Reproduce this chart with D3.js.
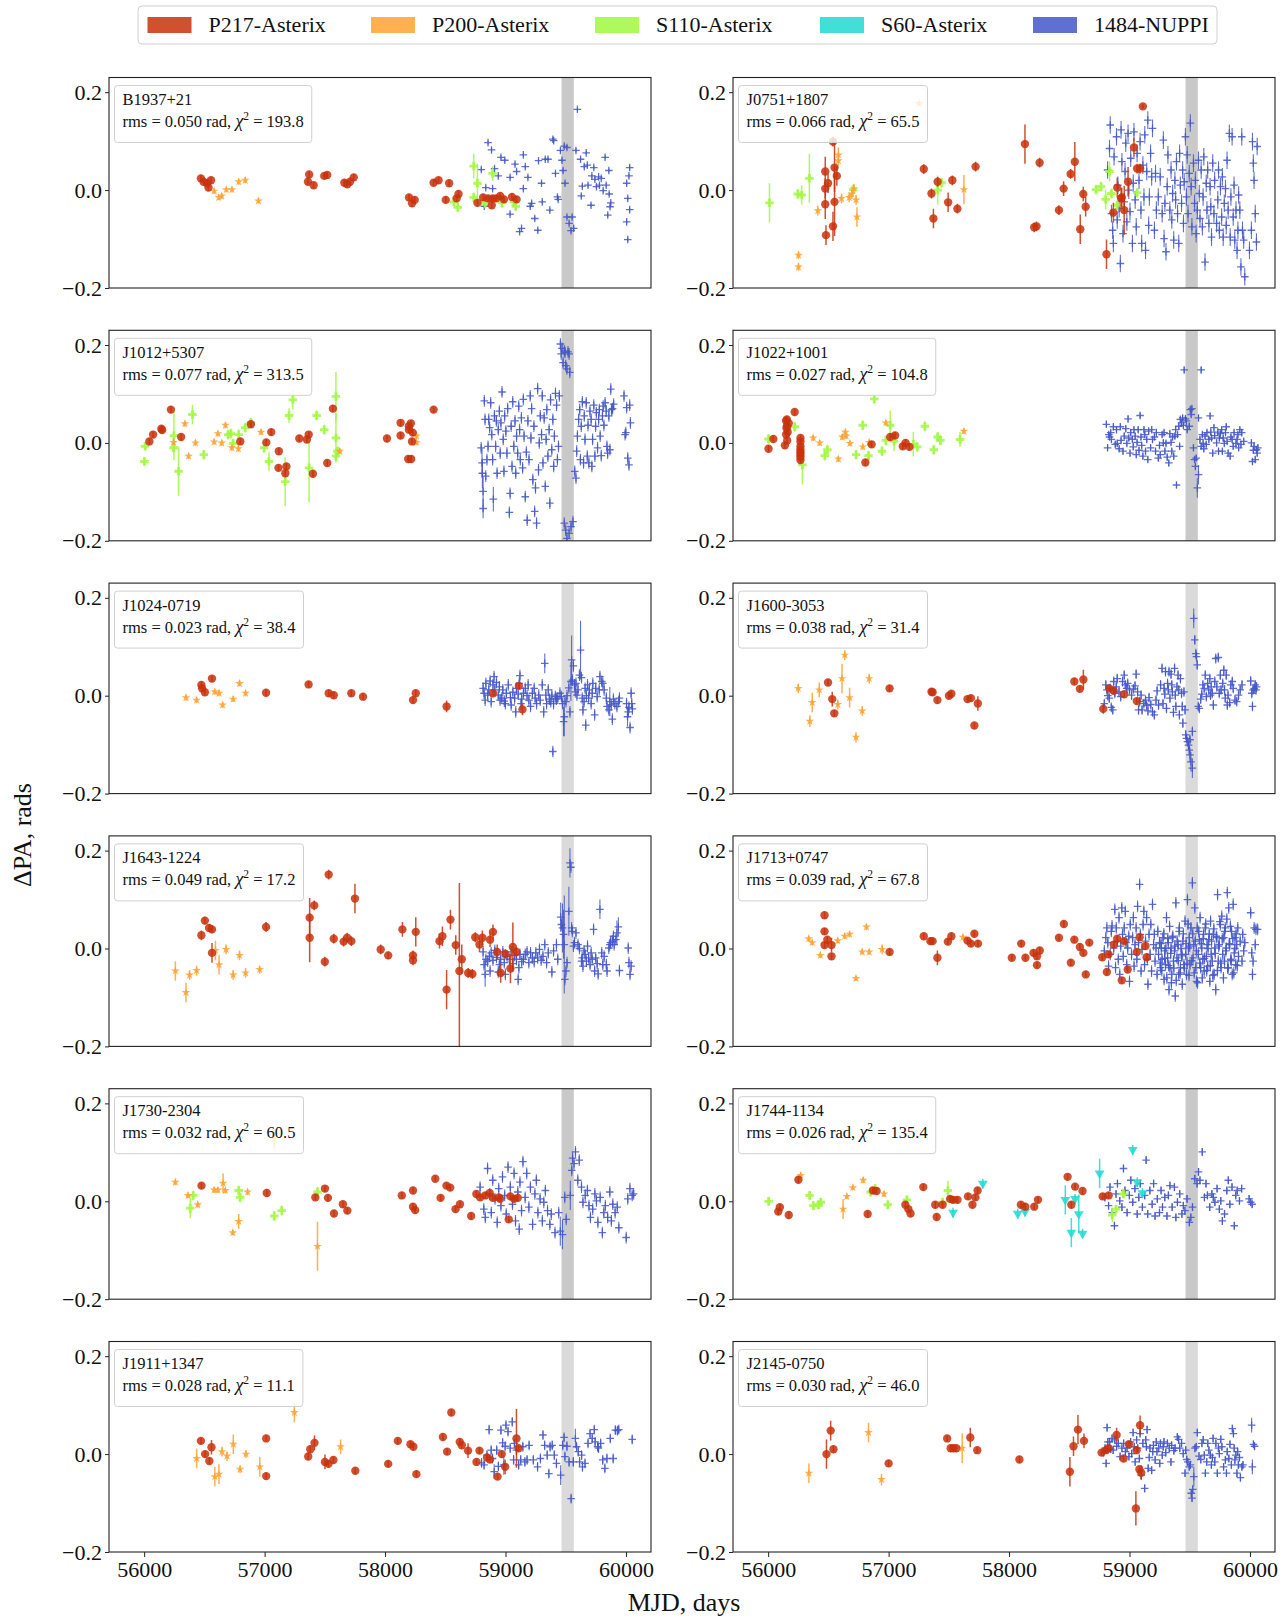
<!DOCTYPE html>
<html>
<head>
<meta charset="utf-8">
<script src="https://cdn.jsdelivr.net/npm/d3@7"></script>
<style>
  body { margin: 0; background: #fff; }
  svg { display: block; font-family: "Liberation Serif", "DejaVu Serif", "Times New Roman", serif; }
</style>
</head>
<body>
<div id="chart"></div>
<script>
// ----- values -----
const backends = ['P217-Asterix', 'P200-Asterix', 'S110-Asterix', 'S60-Asterix', '1484-NUPPI'];
const pulsars = ['B1937+21', 'J0751+1807', 'J1012+5307', 'J1022+1001', 'J1024-0719', 'J1600-3053',
                 'J1643-1224', 'J1713+0747', 'J1730-2304', 'J1744-1134', 'J1911+1347', 'J2145-0750'];
const rmsValues = [0.050, 0.066, 0.077, 0.027, 0.023, 0.038, 0.049, 0.039, 0.032, 0.026, 0.028, 0.030];
const chi2Values = [193.8, 65.5, 313.5, 104.8, 38.4, 31.4, 17.2, 67.8, 60.5, 135.4, 11.1, 46.0];
const gapMJD = [59465, 59567];            // shaded interval
const xTickValues = [56000, 57000, 58000, 59000, 60000];
const yTickValues = [-0.2, 0.0, 0.2];
const defaultErr = [0.007, 0.006, 0.009, 0.01];   // P217, P200, S110, S60
const nuppiErr = [0.004, 0.018, 0.012, 0.006, 0.012, 0.01, 0.012, 0.012, 0.012, 0.008, 0.01, 0.008];

// [MJD, dPA, err?]
const b1937P217 = [[56471,.024],[56493,.017],[56524,.014],[56555,.020],[56534,.005],[57360,.017],[57370,.032],[57407,.010],[57495,.029],[57520,.031],[57662,.015],[57687,.012],[57709,.017],[57740,.026],[58199,-.015],[58224,-.027],[58246,-.020],[58403,.015],[58444,.020],[58532,.014],[58504,-.020],[58610,-.008],[58594,-.017],[58767,-.026],[58814,-.015],[58855,-.017],[58886,-.031],[58924,-.017],[58956,-.012],[58987,-.019],[59054,-.014],[59092,-.019],[58893,-.017]];
const b1937P200 = [[56581,-.002],[56619,-.015],[56644,-.012],[56682,.001],[56729,.001],[56785,.017],[56839,.020],[56949,-.022]];
const b1937S110 = [[58572,-.024,.01],[58604,-.035,.01],[58736,.049,.025],[58767,.014,.04],[58736,-.015,.01],[58893,.034,.015],[58830,-.027,.01],[58971,-.026,.01],[59085,-.033,.01],[59069,-.024,.01]];
const b1937Nuppi = [[58855,.097],[58884,.082],[58799,.042],[58836,.005],[58824,-.033],[58893,.003],[58909,.044],[58940,.029],[58962,.067],[58994,.061],[59038,.026],[59038,-.049],[59079,.053],[59092,.038],[59117,-.085],[59133,-.078],[59148,.072],[59148,.003],[59164,.048],[59186,.026],[59205,-.033],[59217,-.027],[59243,-.058],[59268,-.082],[59274,.060],[59299,.014],[59305,-.024],[59330,.063],[59353,.063],[59368,-.041],[59393,.104],[59400,.101],[59415,.034],[59431,-.014],[59437,-.019],[59456,.081],[59469,.061],[59478,.040],[59488,.090],[59494,.014],[59510,.087],[59510,-.055],[59528,-.068],[59544,-.083],[59553,-.055],[59566,-.078],[59585,.081],[59597,.165],[59623,.063],[59629,-.012],[59638,.008],[59654,.048],[59670,.076],[59679,.051],[59685,.010],[59710,-.031],[59717,.029],[59733,.046],[59742,.022],[59755,.007],[59773,.027],[59780,.010],[59795,.024],[59811,-.001],[59827,.067],[59836,.010],[59849,-.051],[59858,.040],[59861,-.008],[59868,-.034],[59874,-.026],[60006,.014],[60006,-.065],[60015,-.017],[60015,-.101],[60025,.029],[60031,.046],[60031,-.040]];

const j0751P217 = [[56538,.099,.01],[56474,.038,.03],[56474,.003,.02],[56497,.014,.02],[56474,-.029,.03],[56480,-.092,.02],[56538,-.074,.03],[56551,.046,.05],[56570,.029,.02],[56551,-.024,.07],[57292,.043,.01],[57356,-.007,.01],[57372,-.058,.02],[57407,.017,.01],[57494,-.025,.02],[57529,.020,.01],[57571,-.038,.01],[57722,.048,.01],[58132,.094,.04],[58209,-.076,.01],[58228,-.074,.01],[58254,.056,.01],[58414,-.041,.01],[58453,.003,.015],[58511,.033,.01],[58546,.058,.04],[58616,-.008,.015],[58636,-.034,.02],[58591,-.080,.03],[58809,-.131,.03],[58866,-.046,.02],[58898,.005,.02],[58930,-.017,.02],[58956,-.041,.05],[58988,.017,.03],[59037,.087,.02],[59063,.044,.01],[59088,.044,.01],[59111,.171,.005],[58936,-.015,.02]];
const j0751P200 = [[56252,-.133,.008],[56252,-.157,.008],[56412,-.042,.01],[56583,.072,.015],[56583,.060,.01],[56609,-.017,.01],[56673,-.015,.01],[56695,-.008,.01],[56730,-.020,.01],[56737,-.055,.02],[57253,.177,.005],[57625,.001,.03],[56712,.003,.01]];
const j0751S110 = [[56011,-.026,.04],[56246,-.008,.01],[56278,-.010,.02],[56342,.024,.05],[56705,.001,.01],[57407,0,.03],[57439,.015,.01],[58722,.001,.01],[58764,.007,.01],[58802,-.019,.02],[58834,.038,.02],[58850,-.007,.01],[58898,-.031,.01],[59063,-.005,.01]];
const j0751Nuppi = [[58818,.041],[58834,.085],[58840,.133],[58850,-.048],[58860,-.082],[58866,-.109],[58872,.068],[58892,.109],[58898,-.061],[58904,.010],[58914,-.038],[58924,-.150],[58930,.123],[58937,.058],[58946,-.089],[58956,-.024],[58963,.038],[58969,.096],[58978,-.065],[58988,.116],[58994,0],[59004,-.044],[59010,.065],[59024,-.109],[59031,.014],[59037,.119],[59047,-.020],[59056,-.075],[59063,.075],[59079,.020],[59088,.099],[59095,-.041],[59101,-.109],[59111,.051],[59120,-.014],[59127,.113],[59133,-.123],[59143,.038],[59152,.143],[59159,-.072],[59165,-.014],[59175,.075],[59184,.027],[59191,.126],[59207,-.082],[59216,.034],[59223,-.041],[59239,-.014],[59255,.027],[59271,-.048],[59281,.102],[59287,-.099],[59294,-.027],[59303,-.126],[59313,.007],[59319,.072],[59335,-.041],[59345,.041],[59351,-.061],[59358,-.007],[59367,-.102],[59377,.020],[59383,-.020],[59390,.058],[59399,-.048],[59409,-.109],[59416,.075],[59422,.010],[59432,-.027],[59441,.041],[59448,-.068],[59454,.017],[59464,.109],[59473,-.014],[59479,.072],[59486,-.048],[59496,.034],[59505,.137],[59512,.007],[59518,-.075],[59531,.055],[59540,-.027],[59547,.020],[59553,-.089],[59563,-.041],[59573,.061],[59579,-.007],[59585,-.058],[59595,.041],[59605,-.075],[59611,-.014],[59617,.068],[59627,-.147],[59637,.014],[59643,-.041],[59649,.041],[59659,-.068],[59669,.007],[59675,-.034],[59681,-.096],[59691,.055],[59701,-.048],[59707,.020],[59723,-.068],[59733,-.020],[59739,.041],[59746,-.082],[59755,.007],[59765,-.055],[59771,.027],[59778,-.096],[59787,-.027],[59797,.003],[59803,-.072],[59810,.061],[59819,-.041],[59829,.116],[59836,-.096],[59842,-.014],[59852,.109],[59861,-.055],[59868,.010],[59874,-.102],[59884,-.041],[59893,-.123],[59900,-.082],[59906,-.010],[59916,-.041],[59925,-.157],[59932,.109],[59938,-.082],[59948,-.102],[59957,-.177],[59996,-.123],[60012,-.082],[60021,.099],[60028,.055],[60034,.020],[60044,-.048],[60054,-.106],[60060,.089]];

const j1012P217 = [[56043,.003],[56074,.017],[56143,.029],[56149,.026],[56222,.068],[56307,.012],[56798,.003],[56886,.038],[57014,.001],[57055,.022],[57118,-.017],[57115,-.051],[57181,-.048],[57172,-.062],[57288,.009],[57351,.007],[57366,.017],[57401,-.063],[57520,-.041],[57567,.070],[58016,.009],[58129,.015],[58129,.041],[58198,.034],[58214,.040],[58198,.027],[58224,.003],[58230,.021],[58192,-.033],[58217,-.033],[58403,.068]];
const j1012P200 = [[56244,.001],[56338,.039],[56369,-.027],[56426,0],[56581,.002],[56612,.019],[56644,0],[56675,.036],[56728,-.010],[56782,-.012],[56970,.022],[57624,-.017],[58261,.014],[58261,.001]];
const j1012S110 = [[56008,-.007,.008],[56002,-.038,.008],[56247,.015,.05],[56244,-.010,.01],[56285,-.058,.05],[56401,.058,.02],[56495,-.024,.01],[56697,.017,.01],[56719,.019,.01],[56738,-.001,.01],[56785,.017,.01],[56839,.031,.01],[56886,.041,.01],[56996,-.010,.01],[57036,-.038,.02],[57171,-.079,.05],[57203,.056,.015],[57234,.088,.02],[57369,-.051,.07],[57432,.056,.01],[57495,.027,.01],[57592,.095,.05],[57592,.010,.05],[57592,-.027,.01],[57605,-.017,.01]];
const j1012Nuppi = [[58798,-.010],[58805,-.041,.03],[58808,-.062,.03],[58814,-.099,.03],[58814,-.134,.02],[58824,.086],[58830,.048],[58836,-.068],[58846,-.034],[58855,-.007],[58861,.048],[58868,.031],[58877,.082],[58886,.017],[58893,-.034],[58899,-.115,.025],[58908,.055],[58918,-.007],[58924,.045],[58930,-.062],[58940,.027],[58949,.065],[58956,-.021],[58962,.041],[58971,.104],[58981,.007],[58987,-.058],[58993,.055],[59003,.024],[59012,-.021],[59018,.070],[59032,-.142],[59038,-.103],[59047,.034],[59054,-.048],[59060,.084],[59069,-.007],[59079,.045],[59085,-.062],[59092,.014],[59101,-.021],[59110,.075],[59117,.027],[59123,-.034],[59132,.051],[59142,-.051],[59148,.089],[59154,.014],[59164,-.110],[59173,-.019],[59180,-.158],[59186,.045],[59195,-.034],[59205,.096],[59211,.010],[59217,.070],[59227,-.075],[59236,.034],[59242,-.140],[59249,-.092],[59258,-.164],[59267,.111],[59274,-.055],[59280,0],[59289,.055],[59299,.017],[59305,.096],[59311,-.041],[59321,.051],[59330,-.089],[59337,.007],[59343,.068],[59352,-.027],[59362,.027],[59368,-.123],[59374,.088],[59384,-.014],[59393,.048],[59400,-.048],[59406,.014],[59415,.101],[59424,.077],[59431,-.034],[59440,-.007],[59447,.096],[59456,.202],[59462,.182],[59469,.193],[59478,.164],[59488,.188],[59494,.185],[59500,.158],[59510,.151],[59519,.186],[59528,.182],[59534,.144],[59488,-.164],[59500,-.178],[59510,-.195],[59528,-.185],[59544,-.171],[59560,-.161],[59575,-.058],[59585,-.072],[59591,-.017],[59597,.014],[59607,.048],[59616,.068],[59622,-.034],[59629,.034],[59638,.084],[59648,-.041],[59654,.055],[59660,.007],[59670,.082],[59679,-.027],[59685,.036],[59692,-.041],[59701,.065],[59711,.048],[59717,-.048],[59723,.007],[59733,.077],[59742,-.027],[59748,.034],[59754,.062],[59764,-.010],[59773,.048],[59779,.068],[59786,.014],[59795,-.026],[59805,.055],[59811,.075],[59817,.036],[59827,.082],[59836,.065],[59842,-.007],[59848,-.021],[59858,.055],[59867,-.014],[59874,.110],[59880,.068],[59889,.070],[59898,.079],[59984,.096],[59993,.017],[59999,.021],[60006,.072],[60015,-.031],[60025,-.045],[60031,.077],[60037,.041]];

const j1022P217 = [[56003,-.012],[56043,.008],[56149,.045],[56155,.034],[56149,.017],[56155,.048],[56162,.022],[56171,.040],[56139,-.005],[56153,.030],[56158,.005],[56220,.063],[56268,.010],[56268,-.007],[56268,-.019],[56268,-.029],[56268,.003],[56268,-.014],[56268,-.024],[56268,-.035],[56807,-.040],[56859,-.003],[57013,.012],[57054,.015],[57118,-.007],[57141,0],[57173,-.008]];
const j1022P200 = [[56374,.010],[56428,0],[56583,-.033],[56615,.012],[56641,.022],[56647,.014],[56679,-.001],[56785,-.008],[56839,.001],[56977,.041],[57625,.024]];
const j1022S110 = [[56003,.008,.01],[56220,.033,.01],[56284,-.045,.04],[56470,-.026,.01],[56492,-.014,.01],[56730,-.024,.01],[56785,.036,.01],[56833,-.026,.01],[56881,.090,.01],[56945,-.017,.01],[56977,.005,.01],[57013,.036,.03],[57045,.003,.02],[57205,-.003,.025],[57237,-.008,.01],[57301,.034,.01],[57375,-.014,.01],[57407,.012,.01],[57430,.005,.01],[57593,.007,.015]];
const j1022Nuppi = [[58808,.038],[58818,-.010],[58828,.017],[58834,.012],[58844,.021],[58850,.007],[58866,.033],[58882,-.003],[58892,.027],[58898,-.001],[58914,-.012],[58924,.033],[58930,.005],[58946,-.017],[58956,.014],[58969,.029],[58978,-.001],[58988,.049],[58994,.010],[59004,-.021],[59010,.021],[59024,.007],[59031,-.008],[59037,.027],[59047,.014],[59056,-.024],[59063,.001],[59072,.027],[59079,-.015],[59088,.056],[59095,.012],[59101,-.005],[59111,-.027],[59120,.027],[59127,.017],[59133,-.017],[59143,.007],[59152,-.034],[59159,.024],[59175,-.010],[59184,.027],[59191,.007],[59207,.012],[59216,-.017],[59223,.021],[59239,-.031],[59249,-.005],[59255,-.024],[59271,.017],[59281,0],[59287,.021],[59294,-.017],[59303,-.001],[59313,-.029],[59326,-.041],[59335,.019],[59345,.001],[59351,-.017],[59358,.012],[59367,-.027],[59377,.014],[59383,.027],[59390,-.086],[59399,.017],[59409,.034],[59416,-.007],[59422,.048],[59432,.041],[59441,.051],[59448,.036],[59454,.149],[59464,.049],[59473,.045],[59479,.027],[59496,.034],[59505,.068],[59512,.058],[59518,.070],[59531,-.010],[59540,-.034],[59547,-.048],[59553,-.031],[59563,-.092,.02],[59573,-.065,.02],[59573,.051],[59595,.149],[59585,.007],[59595,-.007],[59605,.017],[59611,-.001],[59617,-.012],[59627,.014],[59637,-.003],[59643,.021],[59659,.007],[59669,.055],[59675,.022],[59681,.010],[59691,-.021],[59701,.031],[59707,.015],[59723,0],[59733,.022],[59739,-.017],[59746,.010],[59755,.019],[59765,.027],[59771,-.017],[59778,.010],[59787,-.001],[59797,.021],[59803,.033],[59810,.003],[59819,-.021],[59836,-.027],[59842,.012],[59852,.007],[59861,-.007],[59868,.021],[59884,-.001],[59893,.007],[59900,.017],[59906,-.010],[59916,.027],[59925,-.003],[59932,.021],[59948,.003],[60012,0],[60021,-.038],[60028,-.015],[60034,-.007],[60044,-.034],[60054,-.014],[60060,-.021],[60066,-.010]];

const j1024P217 = [[56475,.022],[56481,.015],[56504,.007],[56563,.035],[57012,.006],[57365,.023],[57532,.005],[57574,.001],[57720,.005],[57817,-.002],[58232,-.009],[58255,.005],[58511,-.022,.012],[58896,.005],[59111,.020],[59141,-.028,.012]];
const j1024P200 = [[56347,-.004],[56435,-.009],[56586,.008],[56622,.005],[56651,-.019],[56739,-.007],[56792,.025],[56842,.005]];
const j1024Nuppi = [[58814,.015],[58822,.005],[58831,-.009],[58837,.025],[58852,.001],[58861,.012],[58872,.030],[58881,-.012],[58896,.022],[58905,.039],[58911,.012],[58925,.027],[58940,.001],[58949,.018],[58955,-.009],[58969,-.005],[58978,.012],[58990,-.011],[58999,-.016],[59007,.005],[59023,.022],[59041,-.004],[59047,-.019],[59061,.007],[59076,-.005],[59085,-.033],[59091,.015],[59105,.003],[59114,.025],[59120,.041],[59129,-.016],[59135,-.007],[59149,.005],[59164,.015],[59179,0],[59188,.022],[59194,-.009],[59208,-.022],[59223,.005],[59238,.015],[59246,-.005],[59258,-.016],[59276,.001],[59288,-.009],[59305,.022],[59317,-.033],[59326,.066,.02],[59335,.001],[59341,-.016],[59355,.012],[59364,-.007],[59376,-.012],[59385,.001],[59393,-.114],[59399,-.016],[59414,-.002],[59423,-.007],[59434,-.005],[59452,.005],[59464,-.002],[59473,-.016],[59482,-.053,.03],[59488,-.043,.04],[59502,-.012],[59511,0],[59526,.016],[59535,-.033],[59543,.029,.04],[59549,.073,.05],[59555,.032],[59564,.061],[59573,.022],[59579,.008],[59585,.025],[59593,.001],[59602,.012],[59614,.042],[59623,.093,.06],[59631,.037],[59637,-.005],[59643,-.029],[59652,-.012],[59661,.015],[59666,-.060],[59672,0],[59681,.022],[59690,-.005],[59696,.012],[59711,-.016],[59720,.005],[59725,.025],[59740,-.039],[59749,.015],[59761,-.002],[59778,.012],[59784,.039],[59799,.029],[59808,.025],[59819,.012],[59837,-.005],[59843,-.022],[59858,-.029],[59866,-.012,.03],[59878,-.019],[59887,-.048],[59896,-.007],[59908,-.016],[59925,-.022],[59940,-.012],[59946,-.005],[60005,-.016],[60013,-.043,.02],[60019,-.033],[60025,-.024],[60034,-.065],[60043,.005],[60048,-.016],[60054,-.027]];

const j1600P217 = [[56497,.027],[56532,-.007,.015],[56549,-.036],[57008,.015],[57356,.008],[57365,.007],[57405,-.009],[57501,0],[57521,.004],[57655,-.007],[57683,-.005],[57741,-.016,.015],[57712,-.061],[58542,.029],[58588,.014],[58617,.033,.02],[58782,-.027,.01],[58832,.015],[58869,.010],[58956,.003],[59061,-.011]];
const j1600P200 = [[56250,.015,.01],[56346,-.052,.012],[56366,-.014,.02],[56424,.012,.015],[56578,-.018,.01],[56613,.035,.03],[56636,.083,.01],[56676,-.004,.02],[56729,-.085,.01],[56781,-.031,.01],[56839,.035,.01]];
const j1600Nuppi = [[58791,-.016],[58803,.022],[58812,.012],[58820,0],[58832,-.005],[58840,.015],[58849,-.024],[58861,-.029],[58869,.029],[58878,.005],[58890,.018],[58898,.035],[58913,.008],[58927,-.002],[58942,.029],[58956,.042],[58965,.022],[58977,.015],[58985,.025],[59000,.012],[59017,.001],[59032,.014],[59046,.020],[59055,.044],[59067,.008],[59075,-.029],[59084,-.012],[59096,.001],[59104,-.029],[59119,-.016],[59133,-.009],[59142,-.020],[59153,-.031],[59162,-.004],[59177,-.018],[59191,-.033],[59206,-.039],[59220,-.009],[59229,.010],[59241,-.019],[59258,.022],[59270,.056],[59278,-.016],[59287,.015],[59293,.003],[59299,.049],[59307,-.026],[59316,.025],[59322,.012],[59328,.049],[59336,-.005],[59345,.044],[59351,.022],[59356,.008],[59365,-.034],[59374,.056],[59380,.001],[59385,-.022],[59394,.018],[59403,.042],[59409,.012],[59414,-.039],[59423,.035],[59432,.005],[59438,-.022],[59443,-.056],[59452,.008],[59461,-.029],[59467,-.080],[59473,-.087],[59481,-.094],[59490,-.101],[59496,-.111],[59502,-.121,.015],[59510,-.135,.02],[59522,-.148,.02],[59502,-.090],[59522,-.073],[59533,.158,.02],[59542,.114],[59551,.086],[59556,.080],[59562,.063],[59571,-.022],[59580,-.026],[59591,-.007],[59600,.003],[59609,.022],[59620,.015],[59629,.042],[59638,-.002],[59649,.025],[59658,.012],[59667,.035],[59673,.001],[59678,.018],[59687,.005],[59696,-.019],[59708,.029],[59716,.076],[59725,.018],[59737,.078],[59745,.005],[59754,.042],[59760,.012],[59774,.025],[59783,.052],[59789,.012],[59795,-.005],[59803,.042],[59812,-.019],[59818,.001],[59832,-.014],[59841,.022],[59853,.029],[59861,.015],[59876,-.009],[59890,-.012],[59905,.001],[59919,.012],[59934,.022],[60006,.030],[60015,.005],[60021,-.022],[60026,.012],[60035,.015],[60044,.022],[60050,.012],[60055,.018]];

const j1643P217 = [[56475,.027,.01],[56504,.057,.008],[56539,.042,.008],[56563,.039,.008],[56563,-.009,.02],[57012,.044,.01],[57374,.022,.05],[57374,.063,.04],[57412,.088,.01],[57500,-.027,.01],[57532,.151,.01],[57574,.020,.01],[57656,.014,.01],[57685,.022,.01],[57720,.015,.01],[57750,.102,.03],[57964,-.002,.01],[58026,-.014,.008],[58144,.039,.015],[58232,-.014,.01],[58232,-.024,.01],[58255,.034,.03],[58452,.015,.015],[58476,.025,.02],[58511,-.084,.04],[58543,.059,.02],[58587,.007,.02],[58617,-.046,.18],[58637,-.022,.03],[58690,-.050,.01],[58725,-.052,.01],[58749,.023,.01],[58784,.008,.015],[58808,.022,.015],[58872,.018,.015],[58896,.034,.015],[58931,-.007,.015],[58960,-.050,.02],[58999,-.011,.01],[59041,-.041,.03],[59061,.003,.05],[59091,-.007,.01]];
const j1643P200 = [[56259,-.046,.02],[56347,-.090,.02],[56377,-.054,.01],[56435,-.045,.01],[56592,-.004,.02],[56622,-.033,.02],[56680,-.002,.01],[56739,-.054,.01],[56792,-.014,.01],[56842,-.050,.01],[56959,-.043,.008],[56666,.148,.01],[57212,.154,.01]];
const j1643Nuppi = [[58814,-.007],[58822,-.033],[58831,-.053,.025],[58837,-.022],[58852,-.026],[58866,-.016],[58872,-.046],[58881,-.009],[58896,-.024],[58911,-.004],[58925,-.018],[58940,-.048],[58949,-.033],[58960,-.022],[58978,-.007],[58990,-.029],[58999,-.053],[59013,-.016],[59032,-.022],[59047,-.007],[59061,-.031],[59076,-.014],[59091,-.022],[59105,-.063],[59111,-.039],[59120,-.012],[59135,-.027],[59149,-.022],[59164,-.012],[59179,-.007],[59194,-.029],[59208,-.009],[59223,-.019],[59238,-.027],[59252,-.009],[59267,-.019],[59282,-.002],[59296,-.024],[59311,-.016],[59326,.008],[59341,-.029],[59355,-.009],[59385,-.048],[59399,-.005],[59423,.008],[59434,-.022],[59458,.064,.03],[59464,.049],[59473,.042,.05],[59482,.029,.05],[59488,.008,.1],[59493,-.063],[59502,-.046],[59511,-.029],[59526,.076,.05],[59535,.175,.03],[59543,.166],[59549,.042],[59555,.035],[59564,.005],[59573,.012],[59585,.032],[59602,.008],[59614,0],[59631,-.026],[59637,-.019],[59643,-.036],[59652,-.005],[59661,-.012],[59672,-.026],[59681,.005],[59690,-.019],[59702,-.033],[59711,-.009],[59720,-.022],[59731,.039],[59740,-.046],[59749,-.019],[59761,-.031],[59769,-.052],[59784,.080,.02],[59799,-.009],[59808,-.033],[59819,-.016],[59837,-.033],[59843,-.046],[59858,.001],[59866,.008],[59872,.012],[59887,.015],[59896,.025],[59902,.008],[59916,.018],[59925,.032,.025],[59937,.044,.02],[59946,-.045],[60019,.001],[60025,-.029],[60034,-.053],[60043,-.036]];

const j1713P217 = [[56468,.068],[56468,.035],[56491,.018],[56468,.007],[56526,.007,.015],[56526,-.016],[57008,-.007],[57292,.025],[57347,.015],[57365,.015],[57405,-.019,.015],[57492,.014],[57521,.025],[57655,.016],[57683,.010],[57712,.030],[57742,.010],[58023,-.019],[58101,.010],[58136,-.019],[58203,-.009],[58232,-.016],[58232,-.034],[58255,-.004],[58414,.022],[58455,.050],[58513,-.029],[58542,.018],[58588,.003],[58617,-.009],[58637,-.053],[58666,.012],[58774,-.018],[58812,-.048],[58826,-.012],[58869,.008],[58898,.020],[58936,-.065],[58956,.015],[58985,-.043],[59061,-.007],[59084,.023],[59133,.005],[59142,-.018]];
const j1713P200 = [[56337,.020],[56366,.012],[56433,-.014],[56578,.016],[56636,.025],[56676,.029],[56729,-.061],[56781,-.007],[56816,.044],[56839,-.007],[56946,-.002,.01],[57617,.023]];
const j1713Nuppi = [[58791,-.005],[58803,.022],[58812,.042],[58820,.012],[58826,-.036],[58840,-.012],[58849,.035],[58855,.046],[58869,.001],[58878,.080],[58884,-.039],[58890,.042],[58898,.015],[58907,-.022],[58913,.063],[58919,-.053],[58927,.005],[58936,.083],[58942,.029],[58948,-.016],[58956,.042],[58965,.076],[58971,.012],[58977,-.033],[58985,.001],[58994,.025],[59000,-.067],[59006,.049],[59017,-.012],[59026,.022],[59032,.063],[59038,-.036],[59046,.008],[59055,.042],[59061,-.022],[59067,.086],[59075,.012],[59084,.131],[59090,.029],[59096,-.046],[59104,-.002],[59113,.049],[59119,.076],[59125,-.033],[59133,.015],[59142,.063],[59148,-.022],[59153,-.073],[59162,.029],[59171,-.012],[59177,.049],[59183,-.046],[59191,.090],[59200,.008],[59206,.029],[59212,-.026],[59220,.001],[59229,-.053],[59235,.035],[59241,-.012],[59249,.012],[59258,-.039],[59264,.001],[59270,-.022],[59278,.022],[59287,-.063],[59293,-.005],[59299,-.033],[59307,.063],[59316,-.019],[59322,.012],[59328,-.084],[59336,-.039],[59345,.001],[59351,-.053],[59356,.022],[59365,-.026],[59374,-.005],[59380,-.097],[59385,.093],[59394,-.019],[59403,.008],[59409,-.053],[59414,.042],[59423,-.039],[59432,-.012],[59438,-.073],[59443,.015],[59452,-.033],[59461,.056],[59467,-.012],[59473,-.053],[59481,.100],[59490,.001],[59496,.022],[59502,-.033],[59510,.042],[59522,.134],[59528,-.019],[59533,.008],[59542,.083],[59551,-.039],[59556,-.067],[59562,.042],[59571,-.012],[59580,.018],[59586,.063],[59591,-.039],[59600,.001],[59609,-.022],[59615,.029],[59620,-.046],[59629,.042],[59638,-.016],[59644,.008],[59649,-.036],[59658,.018],[59667,-.067],[59673,.056],[59678,-.012],[59687,-.026],[59696,.029],[59702,-.053],[59708,.001],[59716,-.084],[59725,.022],[59731,.110],[59737,-.026],[59745,.008],[59754,.049],[59760,-.039],[59766,.066],[59774,-.012],[59783,.022],[59789,-.026],[59795,.042],[59803,.001],[59812,.114],[59818,-.039],[59824,.083],[59832,.008],[59841,-.022],[59847,.035],[59853,-.053],[59861,.090],[59870,-.009],[59876,.022],[59882,-.033],[59890,.008],[59899,.042],[59905,-.016],[59919,.015],[59934,-.026],[59940,.029],[59948,-.005],[59957,.012],[60006,.073],[60015,-.009],[60021,-.053],[60026,-.026],[60035,.042],[60044,.008],[60050,.039],[60064,.039],
  [59255,-.030],[59262,.010],[59268,-.045],[59285,.030],[59292,-.020],[59302,.000],[59310,-.060],[59318,.020],[59325,-.035],[59333,.045],[59342,-.010],[59348,-.070],[59360,.025],[59368,-.040],[59377,.005],[59388,-.065],[59396,.015],[59405,-.025],[59412,.035],[59420,-.050],[59428,.000],[59436,-.015],[59447,.030],[59455,-.040],[59470,.010],[59478,-.030],[59486,.050],[59494,-.055],[59500,.005],[59517,-.025],[59525,.030],[59537,-.050],[59546,.015],[59555,-.005],[59565,-.070],[59575,.035],[59584,-.030],[59595,.010],[59604,-.060],[59612,.020],[59622,-.020],[59633,.050],[59641,-.045],[59652,.000],[59662,.030],[59671,-.035],[59681,.015],[59692,-.055],[59700,.040],[59712,-.010],[59721,.025],[59730,-.045],[59741,.005],[59750,.055],[59758,-.030],[59770,.020],[59780,-.060],[59790,.035],[59800,-.005],[59808,.060],[59816,-.040],[59828,.010],[59838,.045],[59845,-.025],[59858,.020],[59866,-.050],[59875,.000],[59885,.030],[59895,-.035]];

const j1730P217 = [[56476,.032],[57018,.017],[57421,.008],[57501,.026],[57526,.007],[57576,-.025],[57650,-.006],[57687,-.019],[58139,.012],[58232,.022],[58232,-.011],[58250,-.018],[58417,.046],[58461,.007],[58510,.032],[58541,.028],[58585,-.016],[58622,-.006],[58715,-.030],[58758,.015],[58789,.008],[58832,.012],[58869,.017],[58894,.007],[58944,.008],[58956,.005],[59027,-.037],[59040,.010],[59071,.005],[59102,.007]];
const j1730P200 = [[56259,.039],[56364,.012],[56445,-.007],[56581,.023],[56612,.023],[56655,.037,.02],[56674,.022],[56736,-.064],[56785,-.041,.015],[56859,.019],[57080,.127,.02],[57439,-.092,.05]];
const j1730S110 = [[56383,-.014,.02],[56407,.012,.01],[56785,.022,.01],[56797,.008,.01],[57080,-.030,.01],[57142,-.019,.01],[57439,.019,.01]];
const j1730Nuppi = [[58789,.029],[58820,-.016],[58832,-.033],[58851,.067],[58869,.015],[58882,-.023],[58894,.043],[58913,.005],[58931,-.043],[58944,.026],[58962,-.009],[58975,.050],[58993,.012],[59006,-.026],[59021,.070],[59040,.029],[59058,-.006],[59071,.057],[59083,-.040],[59102,.019],[59114,-.057],[59120,.039],[59133,-.019],[59145,.081],[59163,.008],[59176,.057],[59194,-.012],[59207,.029],[59225,-.047],[59244,.015],[59256,.043],[59269,-.023],[59287,.005],[59306,-.040],[59318,-.002],[59331,.022],[59349,-.019],[59368,-.047],[59380,-.026],[59411,-.064],[59442,-.023],[59455,-.061,.03],[59473,-.068,.03],[59492,.008],[59504,-.037],[59538,.012,.03],[59550,.063],[59557,.088],[59569,.077],[59581,.101],[59600,.043],[59612,.084],[59631,.029],[59643,-.002],[59662,.012],[59680,.022],[59693,-.009],[59705,-.033],[59724,-.016],[59742,.015],[59755,.001],[59767,-.043],[59786,.008],[59804,-.064],[59816,-.023],[59829,-.009],[59848,-.033],[59866,.019],[59879,-.040],[59891,-.006],[59910,-.023],[59928,-.012],[59941,-.054],[60002,-.074],[60015,.005],[60033,.026],[60052,.012],[60064,.015]];

const j1744P217 = [[56084,-.021],[56097,-.012],[56171,-.028],[56251,.044],[56826,-.026],[56870,.022],[56900,.021],[57139,-.007],[57164,-.016],[57182,-.025],[57288,.029],[57387,-.007],[57399,-.032],[57448,-.007],[57510,.005],[57535,.003],[57572,.003],[57659,.010],[57696,-.007],[57721,.008],[57739,.022],[58098,-.007],[58135,-.011],[58209,-.011],[58240,.003],[58486,.050],[58517,-.007],[58548,.030],[58610,.021],[58777,.010],[58827,.012]];
const j1744P200 = [[56270,.053],[56622,-.016,.02],[56653,.010],[56703,.028],[56789,.043],[56962,.015]];
const j1744S110 = [[56004,0],[56344,.012],[56375,-.009],[56418,-.007],[56437,-.002],[56851,.019],[56888,.026],[56993,-.007],[57152,.003],[57492,.022,.02],[57448,-.002],[58857,-.028,.015],[58888,-.016],[58950,.015]];
const j1744S60 = [[57535,-.023],[57782,.036],[58072,-.025],[58133,-.021],[58467,.003,.03],[58517,-.064,.03],[58579,-.026,.04],[58610,-.066,.01],[58752,.057,.03],[59027,.105,.01],[59064,.039,.01],[59108,.017,.01],[58548,.005,.01]];
const j1744Nuppi = [[58795,.008],[58826,-.009],[58838,.029],[58857,-.023],[58875,-.050],[58888,.015],[58900,.036],[58919,.001],[58937,-.012],[58950,.067],[58962,.022],[58980,-.023],[58999,.012],[59011,.043],[59027,-.002],[59045,.026],[59064,-.026],[59077,.008],[59089,.036],[59107,-.012],[59126,.012],[59138,.084],[59151,-.026],[59169,.022],[59188,-.006],[59200,.036],[59212,-.030],[59231,.005],[59249,-.023],[59262,.022],[59274,-.012],[59293,.008],[59311,-.030],[59323,.012],[59336,.032],[59354,-.012],[59373,.029],[59385,-.033],[59398,-.002],[59417,.015],[59435,-.026],[59447,-.009],[59460,-.019],[59478,.005],[59497,-.043],[59509,-.033],[59523,-.012],[59542,.046],[59561,.036],[59573,.060],[59585,.043],[59604,.101],[59622,.008],[59635,.036],[59647,.012],[59666,-.012],[59684,.015],[59696,.008],[59709,-.002],[59727,.026],[59746,-.016],[59758,.001],[59771,-.040],[59789,-.026],[59808,.022],[59820,.043],[59833,-.006],[59851,.029],[59870,-.050],[59882,.012],[59894,.022],[59913,.001],[59931,.026],[59993,.005],[60006,-.002],[60018,-.006]];

const j1911P217 = [[56471,.027],[56506,0],[56541,-.014],[56559,.014,.015],[57013,.032],[57013,-.045],[57362,-.005],[57379,.010],[57414,.023,.015],[57501,-.016,.015],[57530,-.020],[57571,-.012],[57753,-.034],[58026,-.020],[58106,.027],[58211,.020],[58235,.015],[58260,-.041],[58480,.035],[58515,.005],[58550,.085],[58620,.025],[58637,.018],[58689,.007,.015],[58759,-.016],[58784,.007],[58846,-.007],[58871,-.011],[58934,-.046],[58969,0],[58997,-.026,.015],[59091,.032,.06],[59108,.012]];
const j1911P200 = [[56436,-.009,.02],[56587,-.046,.02],[56621,-.041,.02],[56646,.005,.01],[56688,-.004,.01],[56740,.020,.02],[56796,-.031,.008],[56845,0,.008],[56960,-.026,.02],[57247,.085,.02],[57631,.015,.015]];
const j1911Nuppi = [[58801,-.018],[58822,-.022],[58846,-.002],[58864,.050],[58881,.008],[58892,-.009],[58906,-.036,.015],[58927,.008],[58941,-.025],[58962,.049],[58976,.023],[58986,-.022,.02],[58997,.016],[59004,.059],[59021,.046],[59039,.012],[59056,.066],[59067,-.012],[59074,.022],[59091,.008],[59109,-.022],[59126,-.012],[59144,.015],[59161,-.016],[59179,-.012],[59196,.018],[59231,-.012],[59266,-.026],[59290,-.009],[59311,.039],[59325,.018],[59346,-.002],[59360,-.040],[59370,.015],[59388,.018],[59405,-.002],[59423,-.019],[59458,-.043,.02],[59475,.018],[59486,.034],[59493,-.005],[59510,.016],[59528,-.016],[59545,-.091],[59563,-.016],[59580,.032,.02],[59590,.015],[59604,.005],[59615,-.016],[59632,-.002],[59639,-.026],[59660,-.019],[59685,.022],[59702,.042],[59720,.032],[59737,.050],[59744,.025],[59765,.015],[59772,.012],[59790,.022],[59807,-.012],[59825,-.029],[59842,-.009],[59870,.032],[59894,-.009],[59912,.049],[59929,.048],[59940,.050],[60052,.030]];

const j2145P217 = [[56484,0,.03],[56519,.048,.02],[56542,.010],[57000,-.019],[57486,.032],[57515,.012],[57538,.012],[57562,.012],[57678,.034,.02],[57736,.008],[58086,-.011],[58505,-.036,.03],[58535,.016,.02],[58572,.050,.03],[58622,.027,.015],[58768,.003],[58805,.008],[58826,.012],[58893,.039,.015],[58951,-.009],[58995,.020],[59053,-.111,.035],[59059,.008],[59082,-.031],[59097,-.038,.015],[59088,.059,.02]];
const j2145P200 = [[56338,-.039,.02],[56833,.044,.02],[56941,-.052,.012],[57611,.012,.03]];
const j2145Nuppi = [[58785,.003],[58797,.012],[58806,-.019],[58814,.054],[58820,.025],[58835,.025],[58844,.010],[58855,.032],[58864,.008],[58878,.029],[58893,.016],[58907,.022],[58922,-.005],[58937,.012],[58951,.022],[58966,.005],[58980,.012],[58995,-.005],[59009,.025],[59018,.001],[59030,.044],[59039,.015],[59047,-.016],[59059,.029],[59068,.012],[59082,-.009],[59088,.042],[59097,-.043],[59111,.022],[59126,-.070],[59135,.029],[59140,.015],[59146,.050],[59155,-.029],[59164,-.007],[59170,.012],[59184,-.033],[59193,.005],[59199,.018],[59213,-.012],[59222,.025],[59228,.005],[59242,.012],[59251,-.019],[59257,.022],[59272,-.002],[59280,.015],[59286,.025],[59301,.003],[59315,.022],[59330,.012],[59344,-.016],[59350,.018],[59368,.007],[59379,.012],[59397,.035],[59408,.030],[59417,.012],[59432,.022],[59446,.001],[59461,-.039],[59467,.008],[59475,-.011],[59484,-.016],[59496,-.026],[59505,-.022],[59513,-.080],[59519,-.090],[59525,-.072],[59534,-.046,.02],[59543,.012],[59554,.015],[59563,.044],[59577,-.004],[59592,-.011],[59601,.022],[59612,.029],[59621,-.002],[59630,-.039],[59641,-.016],[59650,.022],[59659,.008],[59671,-.002],[59680,-.022],[59688,-.007],[59694,.032],[59708,-.016],[59717,.022],[59729,-.039],[59738,.012],[59746,.001],[59758,.030],[59767,.015],[59781,-.026],[59796,-.012],[59805,-.039],[59811,.005],[59825,-.009],[59834,.020],[59846,-.022],[59854,.052],[59863,.042],[59869,.012],[59875,-.012],[59883,-.002],[59892,-.039],[59898,.005],[59904,-.022],[59913,-.007],[59921,-.048],[59933,-.026],[59942,-.022],[60014,.059,.015],[60020,-.026,.015],[60029,.020],[60038,.016]];

// series per pulsar, in backend order: P217, P200, S110, S60, NUPPI
const panelSeries = [
  [b1937P217, b1937P200, b1937S110, [], b1937Nuppi],
  [j0751P217, j0751P200, j0751S110, [], j0751Nuppi],
  [j1012P217, j1012P200, j1012S110, [], j1012Nuppi],
  [j1022P217, j1022P200, j1022S110, [], j1022Nuppi],
  [j1024P217, j1024P200, [], [], j1024Nuppi],
  [j1600P217, j1600P200, [], [], j1600Nuppi],
  [j1643P217, j1643P200, [], [], j1643Nuppi],
  [j1713P217, j1713P200, [], [], j1713Nuppi],
  [j1730P217, j1730P200, j1730S110, [], j1730Nuppi],
  [j1744P217, j1744P200, j1744S110, j1744S60, j1744Nuppi],
  [j1911P217, j1911P200, [], [], j1911Nuppi],
  [j2145P217, j2145P200, [], [], j2145Nuppi]
];

// ----- styling -----
const backendColours = ['rgb(200,49,12)', 'rgb(255,162,49)', 'rgb(160,248,62)', 'rgb(31,219,209)', 'rgb(68,87,200)'];
const bandFills = ['#c9c9c9', '#c9c9c9', '#c9c9c9', '#c9c9c9', '#dadada', '#dadada',
                   '#dadada', '#dadada', '#c9c9c9', '#c9c9c9', '#dadada', '#dadada'];
const markerPaths = [
  d3.symbol(d3.symbolCircle, 55)(),
  d3.symbol(d3.symbolStar, 24)(),
  d3.symbol(d3.symbolCross, 40)(),
  d3.symbol(d3.symbolTriangle, 42)(),
  'M-3.8,0H3.8M0,-3.8V3.8'
];
const fontFamily = '"Liberation Serif", "DejaVu Serif", serif';

class ResidualPanel {
  constructor(_config) {
    this.config = {
      parentElement: _config.parentElement,
      index: _config.index,
      left: _config.left,
      top: _config.top,
      width: _config.width || 542,
      height: _config.height || 210.5,
      series: _config.series,
      showXAxis: _config.showXAxis || false
    }
    this.initVis();
  }

  initVis() {
    const vis = this;
    const c = vis.config;

    vis.g = c.parentElement.append('g')
      .attr('transform', `translate(${c.left},${c.top})`);

    vis.xScale = d3.scaleLinear().domain([55708, 60208]).range([0, c.width]);
    vis.yScale = d3.scaleLinear().domain([-0.2, 0.23]).range([c.height, 0]);

    vis.g.append('clipPath').attr('id', `clip-${c.index}`)
      .append('rect').attr('width', c.width).attr('height', c.height);

    vis.plot = vis.g.append('g').attr('clip-path', `url(#clip-${c.index})`);
    vis.renderVis();
  }

  renderVis() {
    const vis = this;
    const c = vis.config;

    // shaded gap
    vis.plot.append('rect')
      .attr('x', vis.xScale(gapMJD[0]))
      .attr('width', vis.xScale(gapMJD[1]) - vis.xScale(gapMJD[0]))
      .attr('y', 0).attr('height', c.height)
      .attr('fill', bandFills[c.index]);

    // NUPPI first, Asterix on top
    [4, 3, 2, 1, 0].forEach(k => {
      const errDefault = k === 4 ? nuppiErr[c.index] : defaultErr[k];
      const pts = c.series[k].map(d => ({mjd: d[0], dpa: d[1], err: d.length > 2 ? d[2] : errDefault}));
      if (!pts.length) return;
      const colour = backendColours[k];

      vis.plot.append('g').selectAll('line').data(pts).join('line')
        .attr('x1', d => vis.xScale(d.mjd))
        .attr('x2', d => vis.xScale(d.mjd))
        .attr('y1', d => vis.yScale(d.dpa - d.err))
        .attr('y2', d => vis.yScale(d.dpa + d.err))
        .attr('stroke', colour)
        .attr('stroke-width', k === 4 ? 1.1 : 1.5)
        .attr('stroke-opacity', 0.85);

      vis.plot.append('g').selectAll('path').data(pts).join('path')
        .attr('transform', d => `translate(${vis.xScale(d.mjd)},${vis.yScale(d.dpa)})` + (k === 3 ? ' rotate(180)' : ''))
        .attr('d', markerPaths[k])
        .attr('fill', k === 4 ? 'none' : colour)
        .attr('fill-opacity', 0.85)
        .attr('stroke', k === 4 ? colour : 'none')
        .attr('stroke-width', 1.3)
        .attr('stroke-opacity', 0.85);
    });

    // frame
    vis.g.append('rect')
      .attr('width', c.width).attr('height', c.height)
      .attr('fill', 'none').attr('stroke', '#222').attr('stroke-width', 1.1);

    // axes
    const yAxis = d3.axisLeft(vis.yScale)
      .tickValues(yTickValues)
      .tickFormat(d => (d < 0 ? '\u2212' : '') + Math.abs(d).toFixed(1))
      .tickSize(4)
      .tickPadding(3);
    const yAxisGroup = vis.g.append('g').call(yAxis).attr('font-family', null);
    yAxisGroup.select('.domain').remove();
    yAxisGroup.selectAll('text').style('font-size', '22px').style('font-family', fontFamily).attr('fill', '#111');
    yAxisGroup.selectAll('line').attr('stroke', '#222');

    if (c.showXAxis) {
      const xAxis = d3.axisBottom(vis.xScale)
        .tickValues(xTickValues)
        .tickFormat(d3.format('d'))
        .tickSize(5)
        .tickPadding(4);
      const xAxisGroup = vis.g.append('g')
        .attr('transform', `translate(0,${c.height})`)
        .call(xAxis)
        .attr('font-family', null);
      xAxisGroup.select('.domain').remove();
      xAxisGroup.selectAll('text').style('font-size', '22px').style('font-family', fontFamily).attr('fill', '#111');
      xAxisGroup.selectAll('line').attr('stroke', '#222');
    }

    // info box
    const box = vis.g.append('g').attr('transform', 'translate(5.5,8)');
    const frame = box.append('rect')
      .attr('height', 57).attr('rx', 3)
      .attr('fill', '#fff').attr('fill-opacity', 0.8)
      .attr('stroke', '#d0d0d0').attr('stroke-width', 1);
    box.append('text')
      .attr('x', 8).attr('y', 19.5)
      .attr('font-size', 16.5).attr('fill', '#111')
      .text(pulsars[c.index]);
    const stats = box.append('text')
      .attr('x', 8).attr('y', 41.5)
      .attr('font-size', 16.5).attr('fill', '#111');
    stats.append('tspan').text(`rms = ${rmsValues[c.index].toFixed(3)} rad, `);
    stats.append('tspan').attr('font-style', 'italic').attr('font-size', 18).text('\u03c7');
    stats.append('tspan').attr('font-size', 11.5).attr('dy', -7).text('2');
    stats.append('tspan').attr('dy', 7).text(` = ${chi2Values[c.index].toFixed(1)}`);
    frame.attr('width', stats.node().getComputedTextLength() + 16);
  }
}

// ----- figure -----
const svg = d3.select('#chart').append('svg')
  .attr('width', 1288)
  .attr('height', 1617);

const colLeft = [109, 733];
const rowTop0 = 77.5;
const rowStep = 252.8;

pulsars.forEach((p, i) => {
  new ResidualPanel({
    parentElement: svg,
    index: i,
    left: colLeft[i % 2],
    top: rowTop0 + Math.floor(i / 2) * rowStep,
    series: panelSeries[i],
    showXAxis: i >= 10
  });
});

// axis titles
svg.append('text')
  .attr('transform', 'translate(31,835) rotate(-90)')
  .attr('text-anchor', 'middle')
  .attr('font-size', 26).attr('font-family', fontFamily).attr('fill', '#111')
  .text('\u0394PA, rads');

svg.append('text')
  .attr('x', 684).attr('y', 1611)
  .attr('text-anchor', 'middle')
  .attr('font-size', 26).attr('font-family', fontFamily).attr('fill', '#111')
  .text('MJD, days');

// legend
const legend = svg.append('g');
legend.append('rect')
  .attr('x', 138).attr('y', 6).attr('width', 1079).attr('height', 38)
  .attr('rx', 4).attr('fill', '#fff').attr('stroke', '#d0d0d0');
const legendX = [147.5, 371, 595, 820, 1033];
backends.forEach((b, k) => {
  legend.append('rect')
    .attr('x', legendX[k]).attr('y', 17).attr('width', 44).attr('height', 16)
    .attr('fill', backendColours[k]).attr('fill-opacity', 0.85);
  legend.append('text')
    .attr('x', legendX[k] + 61).attr('y', 32)
    .attr('font-size', 22).attr('font-family', fontFamily).attr('fill', '#111')
    .text(b);
});
</script>
</body>
</html>
